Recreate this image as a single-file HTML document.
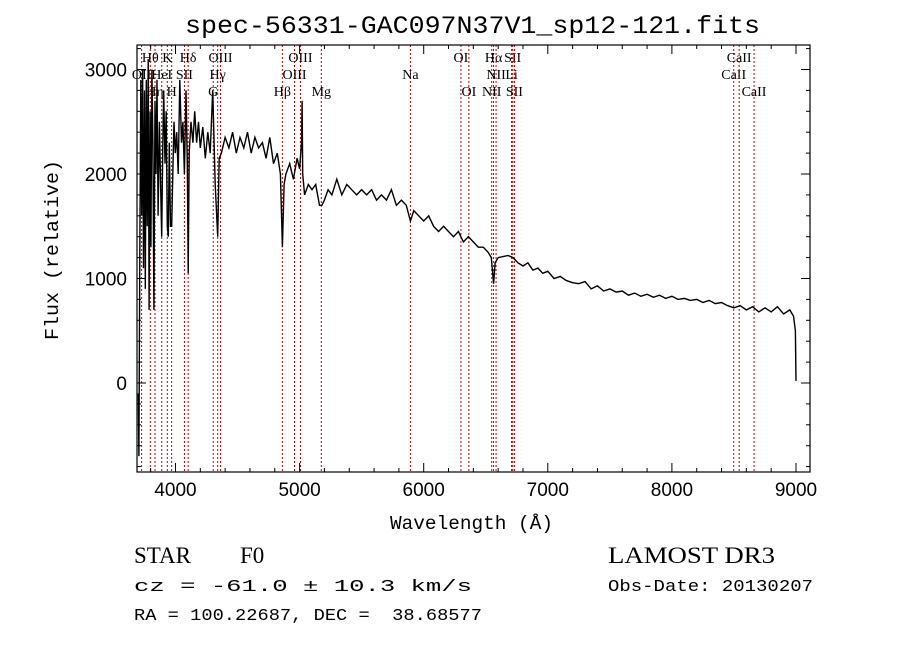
<!DOCTYPE html>
<html><head><meta charset="utf-8">
<style>
html,body{margin:0;padding:0;background:#fff;}
svg{display:block;}
text{font-family:"Liberation Mono",monospace;fill:#000;white-space:pre;}
</style></head>
<body>
<svg id="chart" width="900" height="649" viewBox="0 0 900 649" xmlns="http://www.w3.org/2000/svg">
<rect width="900" height="649" fill="#fff"/>
<text x="185" y="33" font-size="25" textLength="575" lengthAdjust="spacingAndGlyphs">spec-56331-GAC097N37V1_sp12-121.fits</text>
<text transform="translate(58,340) rotate(-90)" font-size="19" textLength="180" lengthAdjust="spacingAndGlyphs">Flux (relative)</text>
<text x="390" y="529" font-size="19" textLength="163" lengthAdjust="spacingAndGlyphs">Wavelength (Å)</text>
<text x="134" y="563" font-size="23" style="font-family:'Liberation Serif',serif">STAR</text>
<text x="240" y="563" font-size="23" style="font-family:'Liberation Serif',serif">F0</text>
<text x="134" y="591" font-size="17" textLength="338" lengthAdjust="spacingAndGlyphs">cz = -61.0 ± 10.3 km/s</text>
<text x="134" y="620" font-size="17" textLength="348" lengthAdjust="spacingAndGlyphs">RA = 100.22687, DEC =  38.68577</text>
<text x="608" y="563" font-size="23" textLength="167" lengthAdjust="spacingAndGlyphs" style="font-family:'Liberation Serif',serif">LAMOST DR3</text>
<text x="608" y="591" font-size="17" textLength="205" lengthAdjust="spacingAndGlyphs">Obs-Date: 20130207</text>
<g id="lines"></g>
<g id="series"></g>
<g id="axes"></g>
</svg>
<script>
const wavelengths=[3700,3705,3712,3720,3728,3735,3742,3750,3757,3765,3772,3780,3787,3795,3802,3810,3818,3826,3835,3843,3851,3860,3870,3880,3889,3897,3905,3915,3925,3934,3942,3950,3960,3969,3978,3988,3998,4010,4022,4035,4048,4060,4072,4085,4095,4102,4110,4125,4140,4155,4170,4185,4200,4220,4240,4260,4280,4300,4320,4340,4352,4370,4400,4430,4460,4490,4520,4550,4580,4610,4640,4670,4700,4730,4760,4790,4820,4845,4861,4875,4890,4920,4950,4980,5000,5015,5020,5025,5040,5070,5100,5130,5160,5180,5200,5230,5260,5300,5340,5380,5420,5460,5500,5540,5580,5620,5660,5700,5740,5780,5820,5860,5893,5920,5960,6000,6040,6080,6120,6160,6200,6240,6280,6320,6360,6400,6440,6480,6520,6545,6563,6575,6600,6640,6680,6720,6760,6800,6840,6880,6920,6960,7000,7050,7100,7150,7200,7250,7300,7350,7400,7450,7500,7550,7600,7650,7700,7750,7800,7850,7900,7950,8000,8050,8100,8150,8200,8250,8300,8350,8400,8450,8500,8550,8600,8650,8700,8750,8800,8850,8900,8950,8980,8995,9000];
const flux=[-100,-700,1200,2900,1600,3000,1100,2800,900,2900,1500,3100,700,2600,1300,3000,2300,700,2700,2000,2900,1600,2500,1900,1400,2200,2800,2100,2600,1500,1400,2300,1500,1500,2000,2500,2200,2400,2000,2900,2300,2500,2000,2800,2100,1050,2200,2500,2300,2600,2300,2500,2250,2450,2150,2400,2200,2800,1900,1400,2150,2200,2350,2250,2400,2200,2350,2250,2400,2200,2350,2250,2300,2150,2350,2100,2200,2000,1300,1900,2000,2100,1950,2150,2050,2300,2700,2000,1800,1900,1850,1900,1700,1700,1750,1850,1800,1950,1800,1900,1850,1800,1850,1800,1850,1750,1800,1750,1850,1700,1750,1700,1550,1650,1600,1550,1600,1500,1450,1500,1450,1400,1450,1350,1400,1350,1300,1300,1250,1200,950,1150,1200,1210,1220,1200,1150,1120,1150,1080,1100,1050,1070,1000,1020,980,960,950,970,900,930,880,900,870,880,840,860,830,850,820,840,810,830,800,810,790,800,770,790,760,770,740,720,740,700,730,680,720,680,730,660,700,640,500,20];
const lineWaves=[3797,3727,3835,3889,3934,3969,4072,4102,4304,4340,4363,4861,4959,5007,5175,5893,6300,6364,6548,6563,6583,6708,6717,6731,8498,8542,8662];
const lineLabels=["Hθ","OII","Hη","HeI","K","H","SII","Hδ","G","Hγ","OIII","Hβ","OIII","OIII","Mg","Na","OI","OI","NII","Hα","NII","Li","SII","SII","CaII","CaII","CaII"];
const lineRows=[0,1,2,1,0,2,1,0,2,1,0,2,1,0,2,1,0,2,2,0,1,1,0,2,1,0,2];
const xTicks=[4000,5000,6000,7000,8000,9000];
const yTicks=[0,1000,2000,3000];

const NS="http://www.w3.org/2000/svg";
const L=137,R=810,T=45,B=472;
function xs(w){return 175.5+(w-4000)*0.1241;}
function ys(f){return 383-f*0.1045;}
function mk(tag,attrs,parent){const e=document.createElementNS(NS,tag);for(const k in attrs)e.setAttribute(k,attrs[k]);parent.appendChild(e);return e;}

const gl=document.getElementById('lines');
lineWaves.forEach((w,i)=>{
  const x=xs(w);
  const ln=mk('line',{x1:x,x2:x,y1:T,y2:B,stroke:'#c00000','stroke-width':1,'stroke-dasharray':'2,2'},gl);
  
  
  const t=mk('text',{x:x,y:62+lineRows[i]*17,'font-size':14,'text-anchor':'middle',style:"font-family:'Liberation Serif',serif"},gl);
  t.textContent=lineLabels[i];
  
  
});

const gs=document.getElementById('series');
const pts=wavelengths.map((w,i)=>xs(w).toFixed(1)+','+ys(flux[i]).toFixed(1)).join(' ');
const pl=mk('polyline',{points:pts,fill:'none',stroke:'#000','stroke-width':1.4},gs);



const ga=document.getElementById('axes');
const fr=mk('rect',{x:L,y:T,width:R-L,height:B-T,fill:'none',stroke:'#000','stroke-width':1.2},ga);


for(let w=3800;w<=9100;w+=200){
  const x=xs(w);if(x<L||x>R)continue;
  const major=w%1000===0;const len=major?9:4;
  mk('line',{x1:x,x2:x,y1:B,y2:B-len,stroke:'#000'},ga);
  mk('line',{x1:x,x2:x,y1:T,y2:T+len,stroke:'#000'},ga);
}
xTicks.forEach(w=>{
  const t=mk('text',{x:xs(w),y:B+24,'font-size':19,'text-anchor':'middle',style:"font-family:'Liberation Sans',sans-serif"},ga);
  t.textContent=w;
  
  
});
for(let f=-800;f<=3200;f+=200){
  const y=ys(f);if(y<T||y>B)continue;
  const major=f%1000===0;const len=major?9:4;
  mk('line',{x1:L,x2:L+len,y1:y,y2:y,stroke:'#000'},ga);
  mk('line',{x1:R,x2:R-len,y1:y,y2:y,stroke:'#000'},ga);
}
yTicks.forEach(f=>{
  const t=mk('text',{x:L-10,y:ys(f)+7,'font-size':19,'text-anchor':'end',style:"font-family:'Liberation Sans',sans-serif"},ga);
  t.textContent=f;
  
  
});
</script>
</body></html>
